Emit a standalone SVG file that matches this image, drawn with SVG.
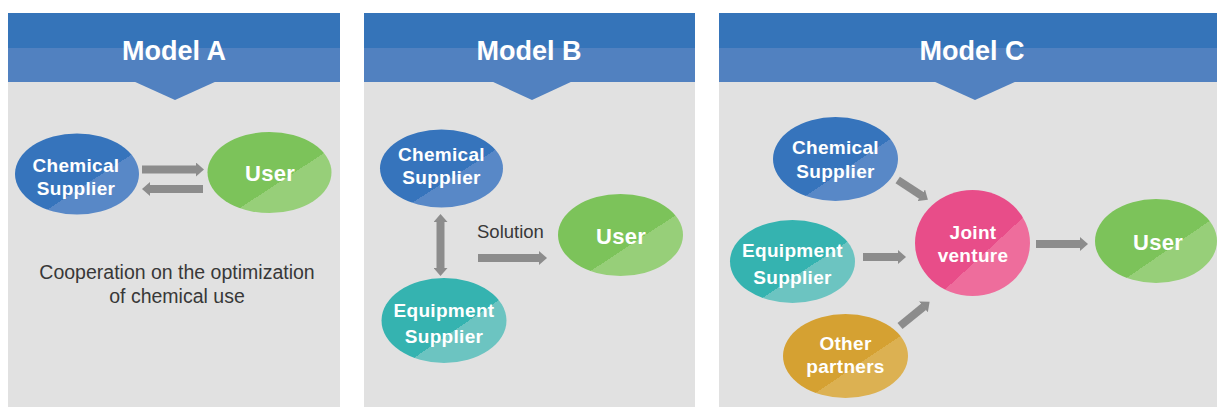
<svg xmlns="http://www.w3.org/2000/svg" width="1217" height="410" viewBox="0 0 1217 410">
<style>
.panel{fill:#e1e1e1}
.hdr1{fill:#3574b9}
.hdr2{fill:#5181c0}
.title{font-family:"Liberation Sans",Arial,sans-serif;font-weight:bold;font-size:27px;fill:#ffffff;text-anchor:middle}
.lbl{font-family:"Liberation Sans",Arial,sans-serif;font-weight:bold;font-size:19px;letter-spacing:0.3px;fill:#ffffff;text-anchor:middle}
.user{font-family:"Liberation Sans",Arial,sans-serif;font-weight:bold;font-size:22px;letter-spacing:0.3px;fill:#ffffff;text-anchor:middle}
.note{font-family:"Liberation Sans",Arial,sans-serif;font-size:19.5px;fill:#383838;text-anchor:middle}
.sol{font-family:"Liberation Sans",Arial,sans-serif;font-size:18.5px;fill:#383838}
.conn{stroke:#8c8c8c;stroke-width:8;fill:none}
</style>
<defs>
<linearGradient id="gBlue" x1="0" y1="0" x2="1" y2="1"><stop offset="0.6" stop-color="#3674bc"/><stop offset="0.6" stop-color="#5888c7"/></linearGradient>
<linearGradient id="gGreen" x1="0" y1="0" x2="1" y2="1"><stop offset="0.6" stop-color="#7cc35a"/><stop offset="0.6" stop-color="#97cf79"/></linearGradient>
<linearGradient id="gTeal" x1="0" y1="0" x2="1" y2="1"><stop offset="0.6" stop-color="#35b3b0"/><stop offset="0.6" stop-color="#6cc4c1"/></linearGradient>
<linearGradient id="gPink" x1="0" y1="0" x2="1" y2="1"><stop offset="0.6" stop-color="#e84d89"/><stop offset="0.6" stop-color="#ee6d9c"/></linearGradient>
<linearGradient id="gGold" x1="0" y1="0" x2="1" y2="1"><stop offset="0.6" stop-color="#d5a132"/><stop offset="0.6" stop-color="#dcb152"/></linearGradient>
<marker id="ah" markerUnits="userSpaceOnUse" markerWidth="9" markerHeight="14" viewBox="0 0 9 14" refX="0.5" refY="7" orient="auto-start-reverse"><path d="M0,0 L8,7 L0,14 z" fill="#8c8c8c"/></marker>
</defs>

<g id="panelA">
<rect class="panel" x="8" y="13" width="332" height="394"/>
<rect class="hdr1" x="8" y="13" width="332" height="35"/>
<rect class="hdr2" x="8" y="48" width="332" height="34"/>
<polygon class="hdr2" points="133,81 217,81 175,100"/>
<text class="title" x="174" y="59.5">Model A</text>
<text class="note" x="177" y="279">Cooperation on the optimization</text>
<text class="note" x="177" y="303">of chemical use</text>
</g>
<g id="panelB">
<rect class="panel" x="364" y="13" width="331" height="394"/>
<rect class="hdr1" x="364" y="13" width="331" height="35"/>
<rect class="hdr2" x="364" y="48" width="331" height="34"/>
<polygon class="hdr2" points="491,81 573,81 532,100"/>
<text class="title" x="529" y="59.5">Model B</text>
<text class="sol" x="477" y="238">Solution</text>
</g>
<g id="panelC">
<rect class="panel" x="719" y="13" width="498" height="394"/>
<rect class="hdr1" x="719" y="13" width="498" height="35"/>
<rect class="hdr2" x="719" y="48" width="498" height="34"/>
<polygon class="hdr2" points="933,81 1017,81 975,100"/>
<text class="title" x="972" y="59.5">Model C</text>
</g>

<g id="connectors">
<line class="conn" x1="142" y1="169.5" x2="196.5" y2="169.5" marker-end="url(#ah)"/>
<line class="conn" x1="203" y1="189" x2="149.5" y2="189" marker-end="url(#ah)"/>
<line class="conn" x1="440.5" y1="221.5" x2="440.5" y2="268.5" marker-start="url(#ah)" marker-end="url(#ah)"/>
<line class="conn" x1="478" y1="258" x2="539.5" y2="258" marker-end="url(#ah)"/>
<line class="conn" x1="897.7" y1="180" x2="921.6" y2="195.6" marker-end="url(#ah)"/>
<line class="conn" x1="863" y1="257" x2="898.5" y2="257" marker-end="url(#ah)"/>
<line class="conn" x1="900" y1="326" x2="923.8" y2="306.6" marker-end="url(#ah)"/>
<line class="conn" x1="1036" y1="244" x2="1080.5" y2="244" marker-end="url(#ah)"/>
</g>

<g id="a-chem">
<ellipse cx="77" cy="174" rx="62" ry="40.5" fill="url(#gBlue)"/>
<text class="lbl" x="76" y="171.5">Chemical</text>
<text class="lbl" x="76" y="194.5">Supplier</text>
</g>
<g id="a-user">
<ellipse cx="269.5" cy="172.5" rx="62" ry="40.5" fill="url(#gGreen)"/>
<text class="user" x="270" y="181">User</text>
</g>

<g id="b-chem">
<ellipse cx="441.5" cy="168.5" rx="61.5" ry="39" fill="url(#gBlue)"/>
<text class="lbl" x="441.5" y="160.5">Chemical</text>
<text class="lbl" x="441.5" y="184">Supplier</text>
</g>
<g id="b-equip">
<ellipse cx="444" cy="320.5" rx="62.5" ry="42.5" fill="url(#gTeal)"/>
<text class="lbl" x="444" y="316.5">Equipment</text>
<text class="lbl" x="444" y="342.5">Supplier</text>
</g>
<g id="b-user">
<ellipse cx="620.5" cy="235" rx="62.5" ry="41" fill="url(#gGreen)"/>
<text class="user" x="621" y="244">User</text>
</g>

<g id="c-chem">
<ellipse cx="835.5" cy="159" rx="62.5" ry="42" fill="url(#gBlue)"/>
<text class="lbl" x="835.5" y="154">Chemical</text>
<text class="lbl" x="835.5" y="178">Supplier</text>
</g>
<g id="c-equip">
<ellipse cx="792.5" cy="261.5" rx="62.5" ry="41.5" fill="url(#gTeal)"/>
<text class="lbl" x="792.5" y="256.5">Equipment</text>
<text class="lbl" x="792.5" y="284">Supplier</text>
</g>
<g id="c-other">
<ellipse cx="845.5" cy="356" rx="62.5" ry="42" fill="url(#gGold)"/>
<text class="lbl" x="845.5" y="350">Other</text>
<text class="lbl" x="845.5" y="372.5">partners</text>
</g>
<g id="c-jv">
<ellipse cx="972.5" cy="243" rx="57.5" ry="53" fill="url(#gPink)"/>
<text class="lbl" x="973" y="239">Joint</text>
<text class="lbl" x="973" y="262">venture</text>
</g>
<g id="c-user">
<ellipse cx="1156" cy="241" rx="61" ry="42" fill="url(#gGreen)"/>
<text class="user" x="1158" y="250">User</text>
</g>
</svg>
